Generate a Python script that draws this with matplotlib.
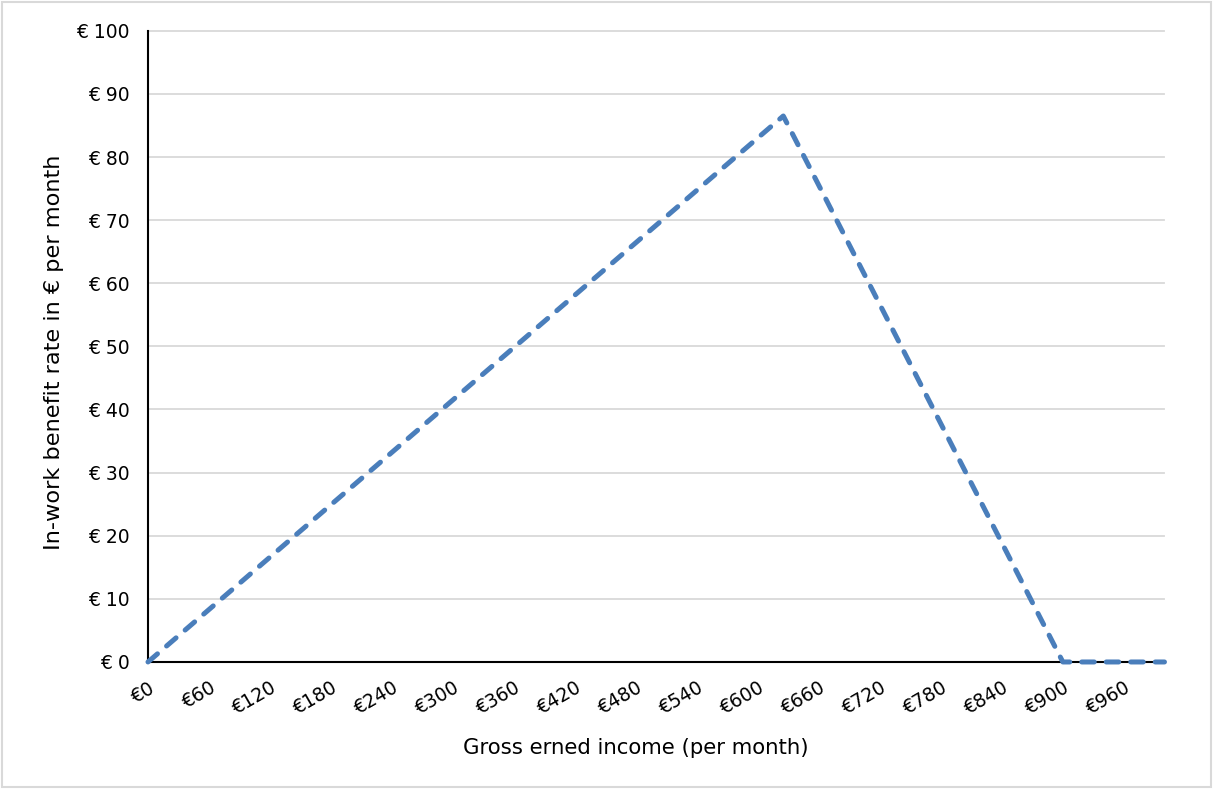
import matplotlib
matplotlib.use("Agg")
import matplotlib.pyplot as plt
from matplotlib.patches import Rectangle

income = [0, 625, 900, 1000]
benefit = [0, 86.5, 0, 0]
x_ticks = list(range(0, 961, 60))
x_labels = [f"€{v}" for v in x_ticks]
y_ticks = list(range(0, 101, 10))
y_labels = [f"€ {v}" for v in y_ticks]

plt.rcParams['font.family'] = ['DejaVu Sans']
fig = plt.figure(figsize=(12.13, 7.89), dpi=100)
fig.patches.append(Rectangle((0.002, 0.002), 0.996, 0.996, transform=fig.transFigure,
                             fill=False, edgecolor='#d9d9d9', linewidth=1.5))
ax = fig.add_axes([0.122, 0.161, 0.838, 0.800])

for yv in y_ticks[1:]:
    ax.axhline(yv, color='#d9d9d9', linewidth=1.3, zorder=1, clip_on=False)

ax.plot(income, benefit, color='#4A7EBB', linewidth=3.6, linestyle=(0, (2.5, 2.4)),
        dash_capstyle='round', dash_joinstyle='round', zorder=3, clip_on=False)

ax.set_xlim(0, 1000)
ax.set_ylim(0, 100)
ax.set_yticks(y_ticks)
ax.set_yticklabels(y_labels, fontsize=13.5)
ax.set_xticks(x_ticks)
ax.set_xticklabels(x_labels, fontsize=13.5, rotation=30, ha='right', rotation_mode='anchor')
ax.tick_params(axis='both', length=0)
ax.tick_params(axis='x', pad=12)
ax.tick_params(axis='y', pad=13)
for s in ['top', 'right']:
    ax.spines[s].set_visible(False)
for s in ['left', 'bottom']:
    ax.spines[s].set_color('black')
    ax.spines[s].set_linewidth(1.5)
    ax.spines[s].set_zorder(2)
ax.set_xlabel("Gross erned income (per month)", fontsize=15.3)
ax.set_ylabel("In-work benefit rate in € per month", fontsize=16.2)
ax.xaxis.set_label_coords(0.48, -0.120)
ax.yaxis.set_label_coords(-0.083, 0.49)

fig.savefig("out.png", dpi=100)
